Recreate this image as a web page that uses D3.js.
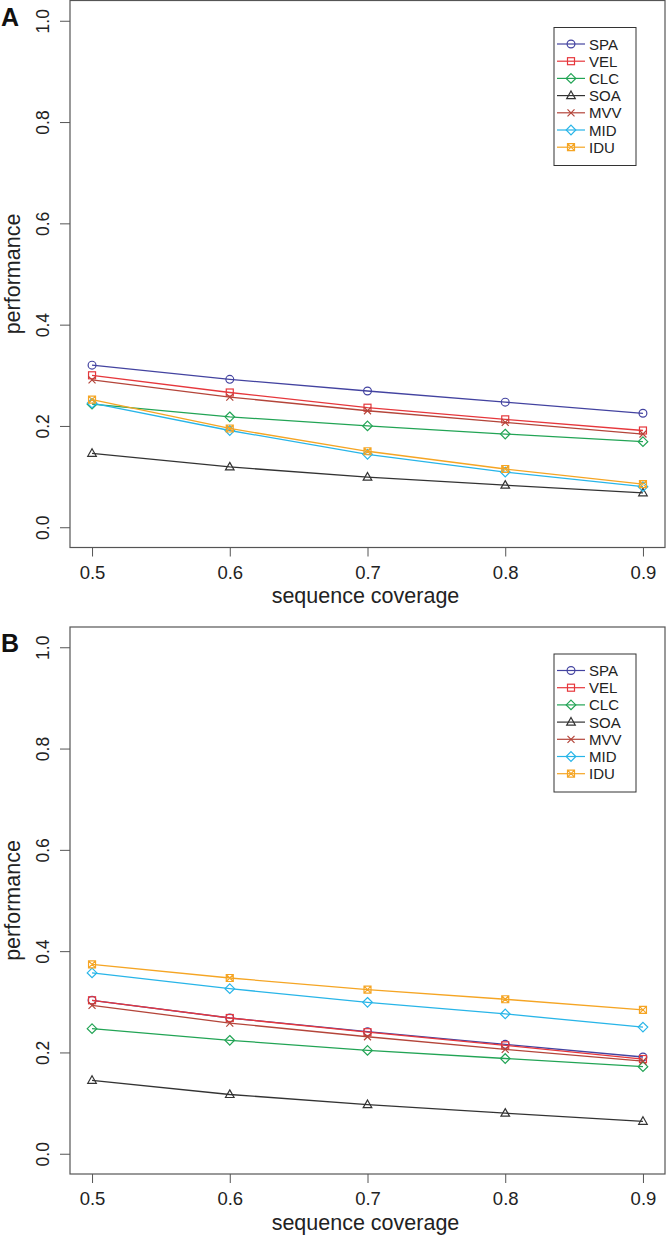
<!DOCTYPE html>
<html>
<head>
<meta charset="utf-8">
<script src="https://cdn.jsdelivr.net/npm/d3@7"></script>
<style>
  body { margin: 0; background: #fff; }
  svg { display: block; font-family: "Liberation Sans", Arial, Helvetica, sans-serif; }
</style>
</head>
<body>
<svg id="svg" width="666" height="1242"></svg>
<script>
// x values and tick labels
var coverage = [0.5, 0.6, 0.7, 0.8, 0.9];
var yTicks = [0.0, 0.2, 0.4, 0.6, 0.8, 1.0];
var methods = ["SPA", "VEL", "CLC", "SOA", "MVV", "MID", "IDU"];
var colors = ["#4343a0", "#e6373c", "#22a455", "#333333", "#b4453a", "#28b5e8", "#f5a524"];
var shapes = ["circle", "square", "diamond", "triangle", "cross", "diamond", "boxx"];

// panel A values
var spaA = [0.320, 0.292, 0.269, 0.247, 0.225];
var velA = [0.300, 0.266, 0.236, 0.213, 0.191];
var clcA = [0.243, 0.218, 0.200, 0.184, 0.169];
var soaA = [0.146, 0.119, 0.099, 0.083, 0.068];
var mvvA = [0.291, 0.257, 0.230, 0.207, 0.184];
var midA = [0.245, 0.191, 0.144, 0.109, 0.080];
var iduA = [0.252, 0.195, 0.150, 0.115, 0.085];

// panel B values
var spaB = [0.303, 0.268, 0.241, 0.216, 0.191];
var velB = [0.303, 0.268, 0.240, 0.214, 0.187];
var clcB = [0.247, 0.224, 0.204, 0.188, 0.172];
var soaB = [0.145, 0.117, 0.097, 0.080, 0.064];
var mvvB = [0.293, 0.258, 0.231, 0.206, 0.183];
var midB = [0.357, 0.326, 0.299, 0.276, 0.250];
var iduB = [0.374, 0.347, 0.324, 0.305, 0.284];

var svg = d3.select("#svg");

function marker(g, shape, color) {
    if (shape == "circle") {
        g.append("circle").attr("r", 3.9).attr("fill", "none").attr("stroke", color);
    } else if (shape == "square") {
        g.append("rect").attr("x", -3.5).attr("y", -3.5).attr("width", 7).attr("height", 7)
            .attr("fill", "none").attr("stroke", color);
    } else if (shape == "diamond") {
        g.append("path").attr("d", "M0,-4.8L4.8,0L0,4.8L-4.8,0Z").attr("fill", "none").attr("stroke", color);
    } else if (shape == "triangle") {
        g.append("path").attr("d", "M0,-4.6L4.3,3L-4.3,3Z").attr("fill", "none").attr("stroke", color);
    } else if (shape == "cross") {
        g.append("path").attr("d", "M-3.5,-3.5L3.5,3.5M3.5,-3.5L-3.5,3.5").attr("stroke", color);
    } else {
        g.append("path").attr("d", "M-3.5,-3.5H3.5V3.5H-3.5ZM-3.5,-3.5L3.5,3.5M3.5,-3.5L-3.5,3.5")
            .attr("fill", "none").attr("stroke", color);
    }
}

function drawPanel(top, letter, series) {
    var left = 70, right = 665, bottom = top + 547;
    var x = d3.scaleLinear().domain([0.484, 0.916]).range([left, right]);
    var y = d3.scaleLinear().domain([-0.04, 1.04]).range([bottom, top]);
    var g = svg.append("g");

    // axes
    var xa = g.append("g").attr("transform", "translate(0," + bottom + ")")
        .call(d3.axisBottom(x).tickValues(coverage).tickSize(9).tickPadding(9).tickFormat(d3.format(".1f")));
    xa.select(".domain").remove();
    xa.selectAll("line").attr("stroke", "#555");
    xa.selectAll("text").attr("font-size", 18.5).attr("fill", "#222");

    var ya = g.append("g").attr("transform", "translate(" + left + ",0)")
        .call(d3.axisLeft(y).tickValues(yTicks).tickSize(10).tickFormat(d3.format(".1f")));
    ya.select(".domain").remove();
    ya.selectAll("line").attr("stroke", "#555");
    ya.selectAll("text").attr("font-size", 17.5).attr("fill", "#222")
        .attr("text-anchor", "middle").attr("transform", "rotate(-90)")
        .attr("x", 0).attr("y", -21).attr("dy", 0);
    xa.attr("font-family", null); ya.attr("font-family", null);

    // frame
    g.append("rect").attr("x", left).attr("y", top).attr("width", right - left).attr("height", bottom - top)
        .attr("fill", "none").attr("stroke", "#555").attr("stroke-width", 1.2);

    // lines and points
    var line = d3.line().x(function(d, i) { return x(coverage[i]); }).y(function(d) { return y(d); });
    series.forEach(function(vals, k) {
        g.append("path").attr("d", line(vals)).attr("fill", "none")
            .attr("stroke", colors[k]).attr("stroke-width", 1.3);
        g.selectAll(null).data(vals).enter().append("g")
            .attr("transform", function(d, i) { return "translate(" + x(coverage[i]) + "," + y(d) + ")"; })
            .each(function() { marker(d3.select(this).attr("stroke-width", 1.2), shapes[k], colors[k]); });
    });

    // titles
    g.append("text").attr("x", (left + right) / 2 - 2).attr("y", bottom + 55.5)
        .attr("text-anchor", "middle").attr("font-size", 21.5).attr("fill", "#222").text("sequence coverage");
    g.append("text").attr("transform", "translate(20," + (top + bottom) / 2 + ") rotate(-90)")
        .attr("text-anchor", "middle").attr("font-size", 21.5).attr("fill", "#222").text("performance");
    g.append("text").attr("x", 1).attr("y", top + 25).attr("font-size", 25).attr("font-weight", "bold")
        .attr("fill", "#111").text(letter);

    // legend
    var lt = top + 27;
    g.append("rect").attr("x", 554).attr("y", lt).attr("width", 82).attr("height", 138)
        .attr("fill", "#fff").attr("stroke", "#333").attr("stroke-width", 1);
    methods.forEach(function(m, k) {
        var ly = lt + 16.5 + k * 17.2;
        g.append("line").attr("x1", 557).attr("x2", 585).attr("y1", ly).attr("y2", ly)
            .attr("stroke", colors[k]).attr("stroke-width", 1.2);
        marker(g.append("g").attr("transform", "translate(571," + ly + ")").attr("stroke-width", 1.2), shapes[k], colors[k]);
        g.append("text").attr("x", 589).attr("y", ly + 5.5).attr("font-size", 15).attr("fill", "#222").text(m);
    });
}

drawPanel(0.5, "A", [spaA, velA, clcA, soaA, mvvA, midA, iduA]);
drawPanel(627, "B", [spaB, velB, clcB, soaB, mvvB, midB, iduB]);
</script>
</body>
</html>
